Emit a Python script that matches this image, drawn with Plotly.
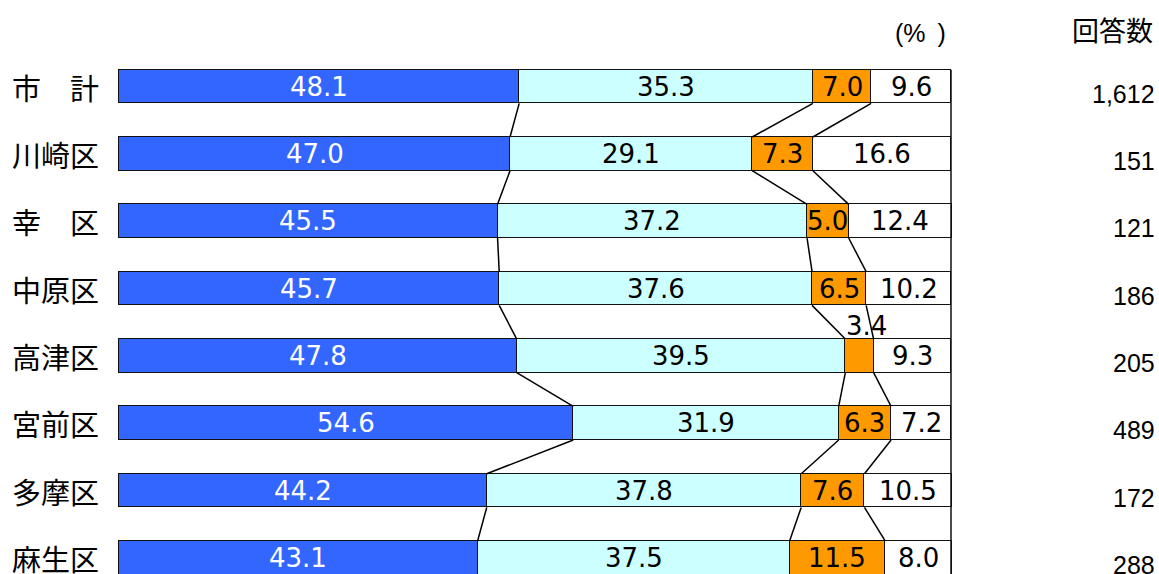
import plotly.graph_objects as go

# ---- data ----
categories = ["市　計", "川崎区", "幸　区", "中原区", "高津区", "宮前区", "多摩区", "麻生区"]
seg1 = [48.1, 47.0, 45.5, 45.7, 47.8, 54.6, 44.2, 43.1]
seg2 = [35.3, 29.1, 37.2, 37.6, 39.5, 31.9, 37.8, 37.5]
seg3 = [7.0, 7.3, 5.0, 6.5, 3.4, 6.3, 7.6, 11.5]
seg4 = [9.6, 16.6, 12.4, 10.2, 9.3, 7.2, 10.5, 8.0]
counts = ["1,612", "151", "121", "186", "205", "489", "172", "288"]

series = [seg1, seg2, seg3, seg4]
colors = ["#3366FF", "#CCFFFF", "#FF9900", "#FFFFFF"]
text_colors = ["white", "black", "black", "black"]

W, H = 1159, 574
BAR_W = 0.5
ys = list(range(len(categories)))

NUM_FONT = "DejaVu Sans, sans-serif"
CNT_FONT = "Liberation Sans, Arial, sans-serif"
CJK_FONT = "Noto Sans CJK JP, sans-serif"

fig = go.Figure()

# stacked bars
for s, col in zip(series, colors):
    fig.add_trace(go.Bar(
        y=ys, x=s, orientation="h", width=BAR_W,
        marker=dict(color=col, line=dict(color="#111111", width=1.3)),
        hoverinfo="skip", showlegend=False,
    ))

# cumulative boundaries
cums = []
for i in ys:
    acc = 0.0
    row = []
    for s in series:
        row.append(acc)
        acc += s[i]
    row.append(acc)
    cums.append(row)

# connector lines between consecutive bars
for i in ys[:-1]:
    for k in (1, 2, 3):
        fig.add_trace(go.Scatter(
            x=[cums[i][k], cums[i + 1][k]],
            y=[i + BAR_W / 2, i + 1 - BAR_W / 2],
            mode="lines", line=dict(color="black", width=1.5),
            hoverinfo="skip", showlegend=False,
        ))
# 100% vertical line
fig.add_trace(go.Scatter(
    x=[100, 100], y=[-BAR_W / 2, len(ys) - 1 + BAR_W / 2],
    mode="lines", line=dict(color="#111111", width=1.5),
    hoverinfo="skip", showlegend=False,
))

annotations = []
# segment value labels
for i in ys:
    for k, s in enumerate(series):
        v = s[i]
        cx = cums[i][k] + v / 2
        if v < 4.0:
            annotations.append(dict(
                x=cums[i][k] - 0.2, y=i - BAR_W / 2, xref="x", yref="y",
                text=f"{v:.1f}", showarrow=False, xanchor="left", yanchor="bottom",
                yshift=-4,
                font=dict(family=NUM_FONT, size=26, color="black"),
            ))
        else:
            annotations.append(dict(
                x=cx, y=i, xref="x", yref="y", text=f"{v:.1f}",
                showarrow=False, xanchor="center", yanchor="middle",
                font=dict(family=NUM_FONT, size=26, color=text_colors[k]),
            ))

# category labels
for i, c in enumerate(categories):
    annotations.append(dict(
        x=10 / W, y=i, xref="paper", yref="y", text=c, showarrow=False,
        xanchor="left", yanchor="middle",
        font=dict(family=CJK_FONT, size=29, color="black"),
    ))
# counts
for i, c in enumerate(counts):
    annotations.append(dict(
        x=1157 / W, y=i, xref="paper", yref="y", text=c, showarrow=False,
        xanchor="right", yanchor="middle", yshift=-7,
        font=dict(family=CNT_FONT, size=25, color="black"),
    ))
# headers
annotations.append(dict(
    x=1155 / W, y=1 - 29 / H, xref="paper", yref="paper", text="回答数",
    showarrow=False, xanchor="right", yanchor="middle",
    font=dict(family=CJK_FONT, size=27, color="black"),
))
annotations.append(dict(
    x=920 / W, y=1 - 33 / H, xref="paper", yref="paper", text="(%\u2009 )",
    showarrow=False, xanchor="center", yanchor="middle",
    font=dict(family=CNT_FONT, size=25, color="black"),
))

px_per = 8.32
x0 = -119 / px_per
x1 = (W - 119) / px_per
row_step = 67.34
c0 = 86.5
y_top = -c0 / row_step
y_bot = (H - c0) / row_step

fig.update_layout(
    width=W, height=H,
    margin=dict(l=0, r=0, t=0, b=0),
    paper_bgcolor="white", plot_bgcolor="white",
    barmode="stack", bargap=0,
    xaxis=dict(range=[x0, x1], visible=False, fixedrange=True),
    yaxis=dict(range=[y_bot, y_top], visible=False, fixedrange=True),
    annotations=annotations,
    showlegend=False,
)

fig.write_html("out.html")
